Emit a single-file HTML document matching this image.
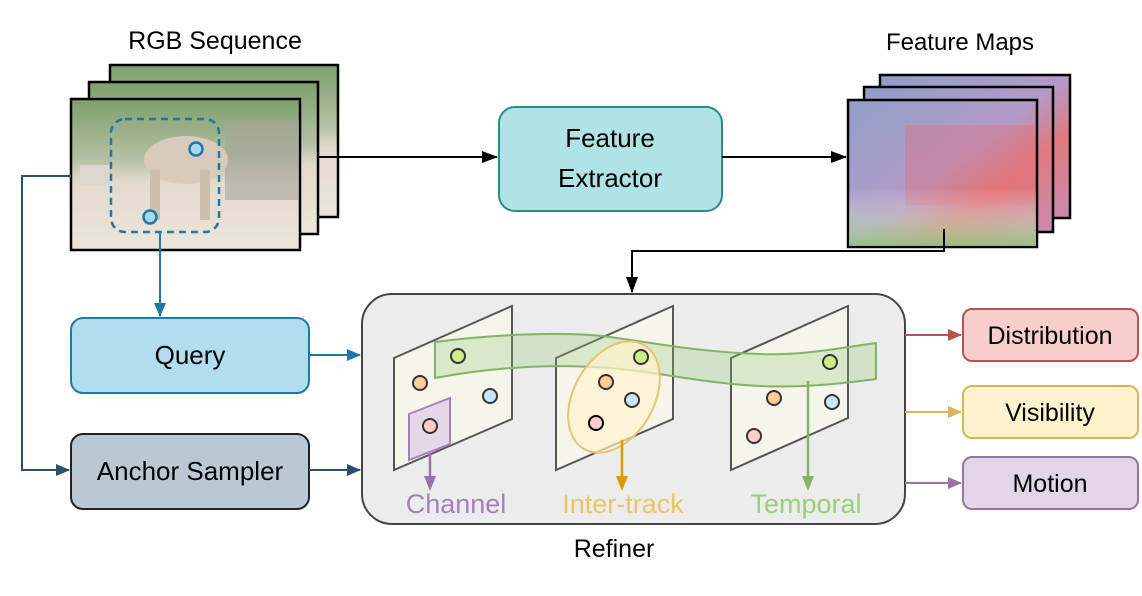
<!DOCTYPE html>
<html><head><meta charset="utf-8"><style>
html,body{margin:0;padding:0;background:#fff;}
svg{display:block;font-family:"Liberation Sans",Arial,sans-serif;}
</style></head><body>
<svg width="1142" height="596" viewBox="0 0 1142 596" xmlns="http://www.w3.org/2000/svg">
<defs>
<linearGradient id="photo" x1="0" y1="0" x2="0" y2="1">
<stop offset="0" stop-color="#7f9f6c"/><stop offset="0.4" stop-color="#b4c0a4"/><stop offset="0.55" stop-color="#e3dace"/><stop offset="1" stop-color="#ece5da"/>
</linearGradient>
<linearGradient id="fm" x1="0" y1="0" x2="1" y2="1">
<stop offset="0" stop-color="#8fa0c8"/><stop offset="0.5" stop-color="#b39ac8"/><stop offset="0.7" stop-color="#e07a80"/><stop offset="1" stop-color="#c98ab0"/>
</linearGradient>
<linearGradient id="fmb" x1="0" y1="0" x2="0" y2="1">
<stop offset="0" stop-color="#fff" stop-opacity="0"/><stop offset="0.6" stop-color="#fff" stop-opacity="0"/><stop offset="1" stop-color="#8ecb7a" stop-opacity="0.8"/>
</linearGradient>
<marker id="ab" markerWidth="14" markerHeight="12" refX="13" refY="6" orient="auto" markerUnits="userSpaceOnUse"><path d="M0,0 L14,6 L0,12z" fill="#1f78a8"/></marker>
<marker id="ad" markerWidth="14" markerHeight="12" refX="13" refY="6" orient="auto" markerUnits="userSpaceOnUse"><path d="M0,0 L14,6 L0,12z" fill="#2c4f6e"/></marker>
<marker id="ablk" markerWidth="16" markerHeight="12" refX="15" refY="6" orient="auto" markerUnits="userSpaceOnUse"><path d="M0,0 L16,6 L0,12z" fill="#000"/></marker>
<marker id="ar" markerWidth="14" markerHeight="12" refX="13" refY="6" orient="auto" markerUnits="userSpaceOnUse"><path d="M0,0 L14,6 L0,12z" fill="#b85450"/></marker>
<marker id="ay" markerWidth="14" markerHeight="12" refX="13" refY="6" orient="auto" markerUnits="userSpaceOnUse"><path d="M0,0 L14,6 L0,12z" fill="#d6b656"/></marker>
<marker id="ap" markerWidth="14" markerHeight="12" refX="13" refY="6" orient="auto" markerUnits="userSpaceOnUse"><path d="M0,0 L14,6 L0,12z" fill="#9673a6"/></marker>
</defs>

<text x="215" y="49" font-size="25" text-anchor="middle">RGB Sequence</text>
<text x="960" y="50" font-size="24" text-anchor="middle">Feature Maps</text>

<rect x="110" y="65" width="228" height="152" fill="url(#photo)" stroke="#000" stroke-width="2.5"/>
<rect x="89" y="82" width="229" height="152" fill="url(#photo)" stroke="#000" stroke-width="2.5"/>
<rect x="71" y="99" width="229" height="151" fill="url(#photo)" stroke="#000" stroke-width="2.5"/>
<rect x="225" y="120" width="74" height="80" fill="#a9a39a" opacity="0.6"/>
<ellipse cx="186" cy="160" rx="42" ry="24" fill="#d8cbbb"/>
<rect x="150" y="170" width="10" height="50" fill="#cdbfae"/><rect x="200" y="170" width="10" height="50" fill="#cdbfae"/>
<rect x="80" y="165" width="30" height="20" fill="#ddd6cc"/>
<rect x="111" y="119" width="108" height="113" rx="14" fill="none" stroke="#1f78a8" stroke-width="2.5" stroke-dasharray="7,5"/>
<circle cx="196" cy="149" r="6.5" fill="#a7d8ee" stroke="#1f78a8" stroke-width="2.5"/>
<circle cx="150" cy="217" r="6.5" fill="#a7d8ee" stroke="#1f78a8" stroke-width="2.5"/>

<rect x="880" y="75" width="190" height="143" fill="url(#fm)" stroke="#000" stroke-width="2.5"/>
<rect x="864" y="87" width="189" height="145" fill="url(#fm)" stroke="#000" stroke-width="2.5"/>
<rect x="848" y="100" width="189" height="147" fill="url(#fm)" stroke="#000" stroke-width="2.5"/>
<rect x="905" y="125" width="130" height="80" fill="#e86a6a" opacity="0.35"/>
<rect x="849" y="101" width="187" height="145" fill="url(#fmb)"/>

<line x1="318" y1="157" x2="497" y2="157" stroke="#000" stroke-width="2" marker-end="url(#ablk)"/>
<rect x="499" y="107" width="223" height="104" rx="16" fill="#b0e3e6" stroke="#2a8a8a" stroke-width="2"/>
<text x="610" y="147" font-size="26" text-anchor="middle">Feature</text>
<text x="610" y="187" font-size="26" text-anchor="middle">Extractor</text>
<line x1="722" y1="157" x2="846" y2="157" stroke="#000" stroke-width="2" marker-end="url(#ablk)"/>
<polyline points="944,229 944,251 632,251 632,292" fill="none" stroke="#000" stroke-width="2" marker-end="url(#ablk)"/>

<polyline points="71,176 22,176 22,470 69,470" fill="none" stroke="#2c4f6e" stroke-width="2" marker-end="url(#ad)"/>
<line x1="160" y1="232" x2="160" y2="316" stroke="#1f78a8" stroke-width="2" marker-end="url(#ab)"/>

<rect x="71" y="318" width="238" height="75" rx="12" fill="#b1ddf0" stroke="#1f78a8" stroke-width="2"/>
<text x="190" y="364" font-size="26" text-anchor="middle">Query</text>
<rect x="71" y="434" width="238" height="75" rx="12" fill="#bac8d3" stroke="#222" stroke-width="2"/>
<text x="190" y="480" font-size="26" text-anchor="middle">Anchor Sampler</text>
<line x1="309" y1="355" x2="360" y2="355" stroke="#1f78a8" stroke-width="2" marker-end="url(#ab)"/>
<line x1="309" y1="470" x2="360" y2="470" stroke="#2c4f6e" stroke-width="2" marker-end="url(#ad)"/>

<rect x="362" y="294" width="543" height="230" rx="30" fill="#ececec" stroke="#444" stroke-width="2"/>
<text x="614" y="557" font-size="25" text-anchor="middle">Refiner</text>

<g stroke="#555" stroke-width="2" fill="#f7f4ec">
<polygon points="394,358 512,306 512,419 394,470"/>
<polygon points="556,358 673,306 673,419 556,470"/>
<polygon points="731,358 848,306 848,418 731,470"/>
</g>
<path d="M435,342 C480,336 560,330 610,337 C660,344 700,352 760,354 C800,356 840,348 876,343 L876,379 C840,384 800,388 760,386 C700,383 660,372 610,368 C560,364 500,366 435,378 Z" fill="#8cc870" fill-opacity="0.28" stroke="#82b366" stroke-width="2"/>
<ellipse cx="614" cy="397" rx="40" ry="60" transform="rotate(30 614 397)" fill="#fff2cc" fill-opacity="0.7" stroke="#e3c46f" stroke-width="2"/>
<polygon points="409,414 450,398 450,444 409,460" fill="#e1d5e7" fill-opacity="0.9" stroke="#a680b8" stroke-width="2"/>

<g stroke="#333" stroke-width="2">
<circle cx="458" cy="356" r="7" fill="#cdeb8b"/><circle cx="420" cy="383" r="7" fill="#ffcc99"/><circle cx="490" cy="396" r="7" fill="#cce5ff"/><circle cx="430" cy="426" r="7" fill="#ffcccc"/>
<circle cx="641" cy="357" r="7" fill="#cdeb8b"/><circle cx="606" cy="382" r="7" fill="#ffcc99"/><circle cx="632" cy="400" r="7" fill="#cce5ff"/><circle cx="596" cy="423" r="7" fill="#ffcccc" stroke="#000"/>
<circle cx="830" cy="362" r="7" fill="#cdeb8b"/><circle cx="774" cy="398" r="7" fill="#ffcc99"/><circle cx="832" cy="402" r="7" fill="#cce5ff"/><circle cx="754" cy="436" r="7" fill="#ffcccc"/>
</g>
<line x1="430" y1="453" x2="430" y2="478" stroke="#9673a6" stroke-width="2.5"/><path d="M424,476 L436,476 L430,491z" fill="#9673a6"/>
<line x1="622" y1="440" x2="622" y2="478" stroke="#d79b00" stroke-width="2.5"/><path d="M616,476 L628,476 L622,491z" fill="#d79b00"/>
<line x1="808" y1="381" x2="808" y2="478" stroke="#82b366" stroke-width="2.5"/><path d="M802,476 L814,476 L808,491z" fill="#82b366"/>
<text x="456" y="513" font-size="27" text-anchor="middle" fill="#a680b8">Channel</text>
<text x="623" y="513" font-size="27" text-anchor="middle" fill="#e8c565">Inter-track</text>
<text x="806" y="513" font-size="27" text-anchor="middle" fill="#97d077">Temporal</text>

<line x1="905" y1="335" x2="961" y2="335" stroke="#b85450" stroke-width="2" marker-end="url(#ar)"/>
<line x1="905" y1="412" x2="961" y2="412" stroke="#d6b656" stroke-width="2" marker-end="url(#ay)"/>
<line x1="905" y1="483" x2="961" y2="483" stroke="#9673a6" stroke-width="2" marker-end="url(#ap)"/>
<rect x="963" y="309" width="175" height="52" rx="9" fill="#f8cecc" stroke="#b85450" stroke-width="2"/>
<text x="1050" y="344" font-size="25" text-anchor="middle">Distribution</text>
<rect x="963" y="386" width="175" height="52" rx="9" fill="#fff2cc" stroke="#d6b656" stroke-width="2"/>
<text x="1050" y="421" font-size="25" text-anchor="middle">Visibility</text>
<rect x="963" y="457" width="175" height="52" rx="9" fill="#e1d5e7" stroke="#9673a6" stroke-width="2"/>
<text x="1050" y="492" font-size="25" text-anchor="middle">Motion</text>
</svg>
</body></html>
